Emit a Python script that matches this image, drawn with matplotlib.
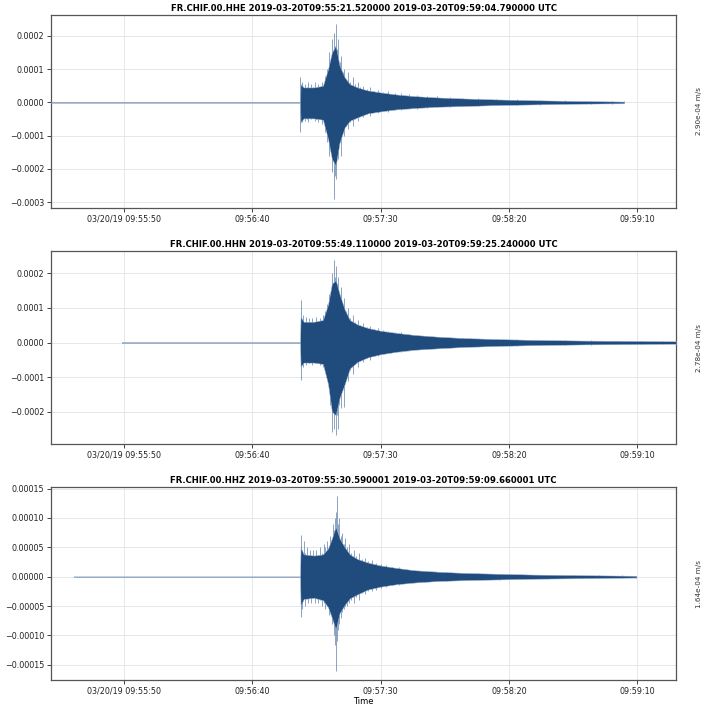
"""
Three-component seismogram, FR.CHIF.00 (HHE / HHN / HHZ), 2019-03-20.

Each trace is kept as values read off the original figure, in 1e-4 m/s,
with times in seconds after 09:55:00 UTC:
  *_t / *_hi / *_lo   : individual swing peaks (drawn as thin strokes)
  *_ct / *_chi / *_clo: the dense core band of the trace (filled)
"""
import matplotlib
matplotlib.use("Agg")
import matplotlib.pyplot as plt
from matplotlib.ticker import MultipleLocator, FuncFormatter

# ---- data ------------------------------------------------------------------
CHANNELS = ["HHE", "HHN", "HHZ"]
STARTS = ["2019-03-20T09:55:21.520000", "2019-03-20T09:55:49.110000",
          "2019-03-20T09:55:30.590001"]
ENDS = ["2019-03-20T09:59:04.790000", "2019-03-20T09:59:25.240000",
        "2019-03-20T09:59:09.660001"]
START_S = [21.52, 49.11, 30.59]     # seconds after 09:55:00
END_S = [244.79, 265.24, 249.66]
MAX_AMP = ["2.90e-04", "2.78e-04", "1.64e-04"]

# swing peaks
hhe_t = [21.52, 118.6, 118.75, 119.0, 119.5, 120.0, 120.6, 121.2, 121.8, 122.4,
         123.0, 123.7, 124.4, 125.0, 125.7, 126.4, 127.1, 127.8, 128.5, 129.1,
         129.7, 130.3, 130.9, 131.4, 131.9, 132.3, 132.7, 133.1, 133.5, 134.0,
         134.6, 135.2, 135.9, 136.6, 137.4, 138.2, 139.1, 140.0, 141.0, 142.0,
         143.2, 144.5, 146.0, 147.5, 149.0, 151.0, 153.0, 155.5, 158.0, 161.0,
         164.0, 168.0, 172.0, 177.0, 182.0, 188.0, 195.0, 203.0, 212.0, 222.0,
         232.0, 240.0, 244.79]
hhe_hi = [0.02, 0.02, 0.75, 0.45, 0.6, 0.4, 0.55, 0.45, 0.6, 0.4,
          0.55, 0.45, 0.6, 0.4, 0.55, 0.45, 0.6, 0.5, 0.8, 1.0,
          1.5, 1.2, 1.9, 1.5, 2.1, 1.7, 2.36, 1.6, 1.9, 1.2,
          1.4, 0.9, 1.0, 0.7, 0.9, 0.6, 0.75, 0.55, 0.6, 0.45,
          0.5, 0.4, 0.45, 0.35, 0.38, 0.32, 0.33, 0.28, 0.28, 0.24,
          0.22, 0.2, 0.18, 0.16, 0.14, 0.12, 0.11, 0.09, 0.08, 0.06,
          0.05, 0.04, 0.03]
hhe_lo = [-0.02, -0.02, -0.89, -0.5, -0.6, -0.45, -0.55, -0.5, -0.6, -0.45,
          -0.5, -0.45, -0.55, -0.5, -0.6, -0.5, -0.65, -0.55, -0.9, -1.2,
          -1.6, -1.4, -2.1, -1.6, -2.9, -2.2, -2.3, -1.5, -1.7, -1.2,
          -1.6, -0.9, -1.0, -0.7, -0.8, -0.6, -0.7, -0.5, -0.55, -0.4,
          -0.45, -0.35, -0.4, -0.3, -0.32, -0.27, -0.28, -0.24, -0.24, -0.2,
          -0.19, -0.17, -0.15, -0.13, -0.12, -0.1, -0.09, -0.08, -0.07, -0.05,
          -0.045, -0.035, -0.03]

hhn_t = [49.11, 118.6, 118.85, 119.1, 119.6, 120.2, 120.8, 121.4, 122.0, 122.7,
         123.4, 124.1, 124.8, 125.5, 126.2, 126.9, 127.6, 128.3, 129.0, 129.7,
         130.3, 130.9, 131.3, 131.7, 132.1, 132.5, 132.9, 133.4, 133.9, 134.5,
         135.1, 135.8, 136.5, 137.3, 138.2, 139.1, 140.0, 141.0, 142.0, 143.2,
         144.5, 146.0, 147.5, 149.0, 151.0, 153.0, 155.5, 158.0, 161.0, 164.0,
         168.0, 172.0, 177.0, 182.0, 188.0, 195.0, 203.0, 212.0, 222.0, 232.0,
         242.0, 252.0, 260.0, 265.24]
hhn_hi = [0.015, 0.015, 1.22, 0.7, 0.8, 0.6, 0.75, 0.6, 0.7, 0.55,
          0.7, 0.6, 0.75, 0.55, 0.7, 0.6, 0.8, 0.9, 1.1, 1.4,
          1.3, 2.0, 1.6, 2.38, 1.9, 2.2, 1.7, 1.9, 1.4, 1.6,
          1.1, 1.3, 0.9, 1.0, 0.7, 0.8, 0.6, 0.65, 0.5, 0.55,
          0.45, 0.48, 0.4, 0.42, 0.35, 0.33, 0.3, 0.3, 0.24, 0.22,
          0.18, 0.17, 0.14, 0.13, 0.12, 0.1, 0.09, 0.08, 0.07, 0.06,
          0.05, 0.045, 0.04, 0.035]
hhn_lo = [-0.015, -0.015, -1.09, -0.6, -0.7, -0.55, -0.65, -0.5, -0.6, -0.5,
          -0.65, -0.55, -0.6, -0.5, -0.65, -0.55, -0.7, -0.8, -1.0, -1.3,
          -1.8, -2.6, -2.0, -2.5, -2.0, -2.68, -2.1, -2.5, -1.8, -1.9,
          -1.3, -1.86, -1.0, -1.1, -0.8, -0.9, -0.6, -0.7, -0.5, -0.55,
          -0.45, -0.5, -0.38, -0.4, -0.32, -0.3, -0.28, -0.27, -0.24, -0.21,
          -0.18, -0.17, -0.15, -0.13, -0.12, -0.1, -0.09, -0.08, -0.07, -0.06,
          -0.05, -0.045, -0.04, -0.035]

hhz_t = [30.59, 118.6, 118.85, 119.1, 119.5, 120.0, 120.6, 121.2, 121.8, 122.4,
         123.0, 123.7, 124.4, 125.0, 125.7, 126.4, 127.1, 127.8, 128.5, 129.1,
         129.7, 130.3, 130.9, 131.4, 131.9, 132.3, 132.7, 133.0, 133.4, 133.9,
         134.4, 135.0, 135.6, 136.3, 137.0, 137.8, 138.6, 139.5, 140.5, 141.5,
         142.6, 143.8, 145.0, 146.5, 148.0, 150.0, 152.0, 154.5, 157.0, 160.0,
         163.0, 167.0, 171.0, 176.0, 181.0, 188.0, 196.0, 205.0, 215.0, 225.0,
         235.0, 244.0, 249.66]
hhz_hi = [0.01, 0.01, 0.5, 0.71, 0.45, 0.6, 0.4, 0.5, 0.35, 0.45,
          0.35, 0.45, 0.35, 0.45, 0.35, 0.5, 0.4, 0.55, 0.5, 0.6,
          0.5, 0.7, 0.65, 0.9, 0.8, 1.0, 1.1, 1.37, 0.9, 1.0,
          0.7, 0.75, 0.55, 0.65, 0.5, 0.55, 0.4, 0.45, 0.35, 0.4,
          0.3, 0.32, 0.27, 0.28, 0.24, 0.22, 0.2, 0.17, 0.16, 0.13,
          0.12, 0.1, 0.09, 0.08, 0.07, 0.06, 0.05, 0.04, 0.035, 0.03,
          0.025, 0.02, 0.015]
hhz_lo = [-0.01, -0.01, -0.68, -0.4, -0.55, -0.35, -0.5, -0.35, -0.45, -0.35,
          -0.45, -0.35, -0.45, -0.35, -0.45, -0.4, -0.5, -0.45, -0.55, -0.5,
          -0.65, -0.6, -0.8, -0.75, -1.0, -1.16, -1.61, -1.1, -0.9, -0.8,
          -0.7, -0.6, -0.55, -0.5, -0.5, -0.45, -0.4, -0.45, -0.35, -0.4,
          -0.28, -0.3, -0.24, -0.25, -0.22, -0.2, -0.17, -0.15, -0.14, -0.11,
          -0.1, -0.09, -0.08, -0.07, -0.065, -0.06, -0.05, -0.04, -0.035, -0.03,
          -0.025, -0.02, -0.015]

# dense core band
hhe_ct = [21.52, 118.6, 118.8, 120, 124, 127.5, 129.5, 131, 132.5, 134, 136,
          138, 141, 145, 150, 156, 163, 172, 182, 195, 210, 225, 244.79]
hhe_chi = [0.01, 0.01, 0.55, 0.45, 0.45, 0.5, 1.0, 1.5, 1.7, 1.1, 0.75,
           0.55, 0.45, 0.36, 0.3, 0.24, 0.19, 0.15, 0.12, 0.09, 0.065, 0.045, 0.025]
hhe_clo = [-0.01, -0.01, -0.6, -0.48, -0.48, -0.52, -1.1, -1.7, -1.9, -1.2, -0.75,
           -0.55, -0.45, -0.33, -0.27, -0.21, -0.17, -0.13, -0.11, -0.08, -0.06,
           -0.04, -0.025]

hhn_ct = [49.11, 118.6, 118.8, 120, 124, 127.5, 129.5, 131, 132.5, 134, 136,
          138, 141, 145, 150, 156, 163, 172, 182, 195, 210, 230, 250, 265.24]
hhn_chi = [0.01, 0.01, 0.75, 0.6, 0.6, 0.65, 1.1, 1.7, 1.8, 1.4, 0.95,
           0.65, 0.52, 0.42, 0.34, 0.28, 0.22, 0.17, 0.13, 0.1, 0.075, 0.055,
           0.045, 0.035]
hhn_clo = [-0.01, -0.01, -0.7, -0.58, -0.58, -0.62, -1.2, -2.0, -2.1, -1.6, -1.2,
           -0.75, -0.56, -0.43, -0.34, -0.27, -0.21, -0.17, -0.13, -0.1, -0.075,
           -0.055, -0.045, -0.035]

hhz_ct = [30.59, 118.6, 118.8, 120, 124, 127.5, 129.5, 131, 132.5, 134, 136,
          138, 141, 145, 150, 156, 163, 172, 182, 195, 210, 230, 249.66]
hhz_chi = [0.005, 0.005, 0.5, 0.38, 0.36, 0.38, 0.48, 0.65, 0.85, 0.65, 0.5,
           0.38, 0.3, 0.24, 0.19, 0.15, 0.11, 0.085, 0.065, 0.05, 0.035, 0.025,
           0.015]
hhz_clo = [-0.005, -0.005, -0.5, -0.38, -0.36, -0.4, -0.52, -0.7, -0.9, -0.62,
           -0.48, -0.37, -0.3, -0.22, -0.17, -0.13, -0.1, -0.075, -0.06, -0.048,
           -0.035, -0.025, -0.015]

PEAKS = [(hhe_t, hhe_hi, hhe_lo), (hhn_t, hhn_hi, hhn_lo), (hhz_t, hhz_hi, hhz_lo)]
CORES = [(hhe_ct, hhe_chi, hhe_clo), (hhn_ct, hhn_chi, hhn_clo),
         (hhz_ct, hhz_chi, hhz_clo)]
Y_STEP = [1e-4, 1e-4, 5e-5]
Y_DEC = [4, 4, 5]
UNIT = 1e-4

# ---- style -----------------------------------------------------------------
DARK = "#1f4b7d"
MID = "#41699a"
LIGHT = "#9fb4cf"
GRID = "#e0e3e8"
SPINE = "#555555"
FS = 5.8

BOTTOMS = [0.7058, 0.3711, 0.0368]
LEFT, WIDTH, HEIGHT = 0.0724, 0.8883, 0.2728


def yfmt(dec):
    def f(v, pos):
        if abs(v) < 1e-12:
            v = 0.0
        return f"{v:.{dec}f}".replace("-", "\u2212")
    return f


fig = plt.figure(figsize=(7.04, 7.06), dpi=100)
xmin, xmax = min(START_S), max(END_S)


def clock(x, pos):
    s = int(round(x))
    txt = f"09:{55 + s // 60:02d}:{s % 60:02d}"
    return "03/20/19 " + txt if x - 50 < xmin else txt


for i in range(3):
    t, hi, lo = PEAKS[i]
    ct, chi, clo = CORES[i]
    ax = fig.add_axes([LEFT, BOTTOMS[i], WIDTH, HEIGHT])
    ax.vlines(t, [v * UNIT for v in lo], [v * UNIT for v in hi],
              color=MID, lw=0.5, alpha=0.85, zorder=3)
    ax.fill_between(ct, [v * UNIT for v in clo], [v * UNIT for v in chi],
                    facecolor=DARK, edgecolor=LIGHT, lw=0.35, zorder=4)
    ax.set_xlim(xmin, xmax)
    ax.margins(y=0.05)

    ax.xaxis.set_major_locator(MultipleLocator(50))
    ax.xaxis.set_major_formatter(FuncFormatter(clock))
    ax.yaxis.set_major_locator(MultipleLocator(Y_STEP[i]))
    ax.yaxis.set_major_formatter(FuncFormatter(yfmt(Y_DEC[i])))
    ax.tick_params(labelsize=FS, length=3, width=0.6, colors="#222222",
                   pad=2)
    ax.grid(True, color=GRID, lw=0.6, zorder=0)
    ax.set_axisbelow(True)
    for sp in ax.spines.values():
        sp.set_color(SPINE)
        sp.set_linewidth(0.9)

    ax.set_title(f"FR.CHIF.00.{CHANNELS[i]} {STARTS[i]} {ENDS[i]} UTC",
                 fontsize=6.1, fontweight="bold", pad=3)
    fig.text(0.9935, BOTTOMS[i] + HEIGHT / 2, f"{MAX_AMP[i]} m/s",
             rotation=90, ha="center", va="center", fontsize=5.2,
             color="#333333")

ax.set_xlabel("Time", fontsize=FS + 0.2)
ax.xaxis.label.set_va("center")
ax.xaxis.set_label_coords(0.5, -0.11)

fig.savefig("out.png", dpi=100)
